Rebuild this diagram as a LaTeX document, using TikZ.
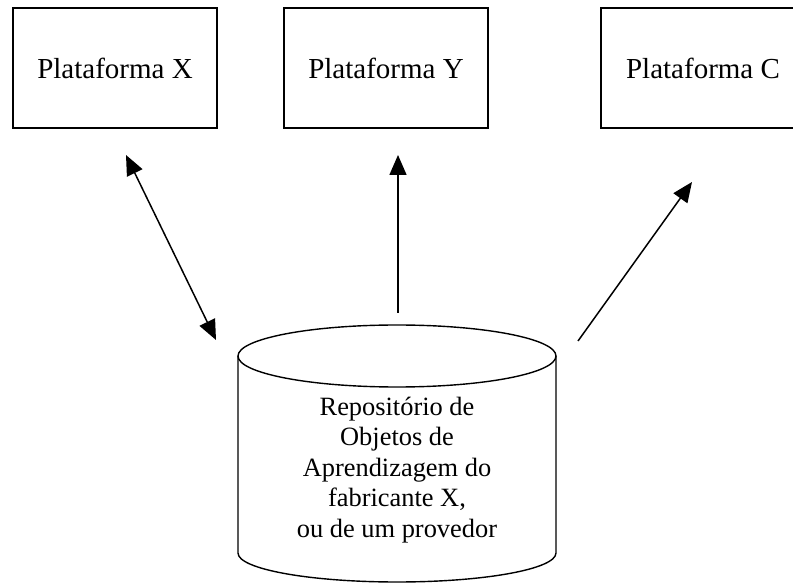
\documentclass[tikz,border=0pt]{standalone}
\usepackage{fontspec}
\setmainfont{Liberation Serif}
\usepackage{tikz}
\usetikzlibrary{arrows.meta, positioning}

\begin{document}
\begin{tikzpicture}[x=1pt, y=1pt,
        plat/.style={draw, line width=1.6pt, minimum width=204pt, minimum height=120pt, inner sep=0pt, font=\fontsize{29}{33}\selectfont},
        seta/.style={line width=1.5pt, -{Triangle[length=20pt, width=17pt]}}]
        \clip (0,0) rectangle (793,584);
        % plataformas
        \node[plat] (platX) at (115,516) {Plataforma X};
        \node[plat] (platY) at (386,516) {Plataforma Y};
        \node[plat] (platC) at (703,516) {Plataforma C};
        % repositorio
        \draw[line width=1.4pt] (397,228) ellipse [x radius=159, y radius=31];
        \draw[line width=1.4pt] (238,228) -- (238,31) arc[start angle=180, end angle=360, x radius=159, y radius=29] -- (556,228);
        \node[align=center, font=\fontsize{26.4}{30.4}\selectfont] (repo) at (397,114)
            {Reposit\'orio de\\Objetos de\\Aprendizagem do\\fabricante X,\\ou de um provedor};
        % setas
        \coordinate (aX) at (216,244);
        \coordinate (bX) at (126,429);
        \coordinate (aY) at (398,271);
        \coordinate (bY) at (398,429);
        \coordinate (aC) at (578,243);
        \coordinate (bC) at (692,402);
        \draw[seta, {Triangle[length=20pt, width=17pt]}-{Triangle[length=20pt, width=17pt]}] (aX) -- (bX);
        \draw[seta] (aY) -- (bY);
        \draw[seta] (aC) -- (bC);
    \end{tikzpicture}
\end{document}
